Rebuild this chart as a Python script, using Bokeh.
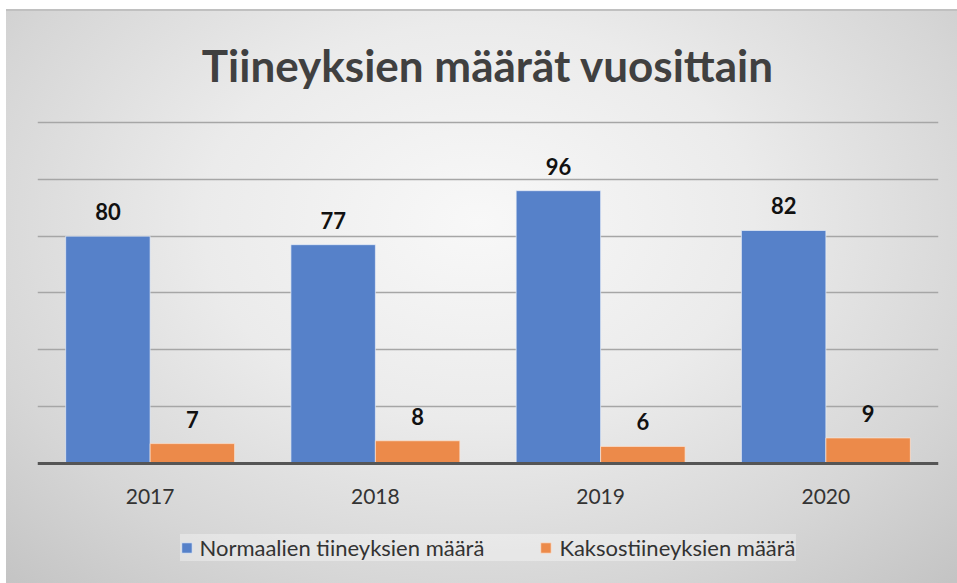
from bokeh.plotting import figure
from bokeh.models import (ColumnDataSource, FactorRange, Range1d, LabelSet, Legend,
                          LegendItem, FixedTicker, Span)
from bokeh.transform import dodge
from bokeh.embed import file_html
from bokeh.resources import INLINE
from bokeh.core.properties import value

# ---- data ----
years = ["2017", "2018", "2019", "2020"]
normal = [80, 77, 96, 82]
twins = [7, 8, 6, 9]
series_names = ["Normaalien tiineyksien määrä", "Kaksostiineyksien määrä"]
title_text = "Tiineyksien määrät vuosittain"
y_max = 120
grid_step = 20
grid_ticks = list(range(grid_step, y_max + 1, grid_step))

# ---- style / layout ----
colors = ["#5681C9", "#EC8A4A"]
FONT = "Lato"
bar_w = 0.375
px_per_unit = 343 / (y_max + 0.7)
frame_h = 463
y_start = (y_max + 0.7) - frame_h / px_per_unit   # room below the baseline for labels + legend

src = ColumnDataSource(dict(
    year=years, normal=normal, twins=twins,
    nl=[str(v) for v in normal], tl=[str(v) for v in twins],
))

p = figure(
    x_range=FactorRange(factors=years, range_padding=0),
    y_range=Range1d(y_start, y_max + 0.7),
    frame_width=901, frame_height=frame_h,
    output_backend="svg", toolbar_location=None,
    min_border_left=37, min_border_right=19, min_border_top=120, min_border_bottom=0,
)
p.background_fill_alpha = 0
p.border_fill_alpha = 0
p.outline_line_color = None
p.styles = {
    "background": "radial-gradient(ellipse 72% 85% at 50% 38%, #f8f8f8 0%, #ebebeb 40%, #d6d6d6 75%, #c4c4c4 100%)",
    "box-shadow": "inset 6px 9px 0 #ffffff, inset 6px 11px 0 #c0c0c0",
}

# grid
p.xaxis.visible = False
p.yaxis.visible = False
p.xgrid.grid_line_color = None
p.ygrid.ticker = FixedTicker(ticks=grid_ticks)
p.ygrid.grid_line_color = "#a6a6a6"
p.ygrid.grid_line_width = 1.5

r1 = p.vbar(x=dodge("year", -bar_w / 2, range=p.x_range), top="normal", bottom=0, width=bar_w,
            source=src, fill_color=colors[0], line_color="#e8eef8", line_width=1, line_alpha=0.7)
r2 = p.vbar(x=dodge("year", bar_w / 2, range=p.x_range), top="twins", bottom=0, width=bar_w,
            source=src, fill_color=colors[1], line_color="#fbe4d5", line_width=1, line_alpha=0.7)

# baseline (category axis line)
p.add_layout(Span(location=0, dimension="width", line_color="#555555", line_width=3))

# value labels
for field, txt, off in (("normal", "nl", -bar_w / 2), ("twins", "tl", bar_w / 2)):
    p.add_layout(LabelSet(
        x=dodge("year", off, range=p.x_range), y=field, text=txt, source=src,
        text_align="center", text_baseline="alphabetic", y_offset=16,
        text_font=value(FONT), text_font_style="bold", text_font_size="22px",
        text_color="#111111"))

# category labels
p.add_layout(LabelSet(
    x="year", y=0, text="year", source=src,
    text_align="center", text_baseline="alphabetic", y_offset=-40,
    text_font=value(FONT), text_font_size="21px", text_color="#333333"))

# title
p.title.text = title_text
p.title.align = "center"
p.title.text_font = FONT
p.title.text_font_style = "bold"
p.title.text_font_size = "44px"
p.title.text_color = "#404040"
p.title.standoff = 60

legend = Legend(items=[LegendItem(label=series_names[0], renderers=[r1]),
                       LegendItem(label=series_names[1], renderers=[r2])],
                orientation="horizontal", location="bottom_center")
legend.label_text_font = FONT
legend.label_text_font_size = "22px"
legend.label_text_color = "#333333"
legend.glyph_width = 13
legend.glyph_height = 13
legend.label_standoff = 7
legend.spacing = 55
legend.padding = 10
legend.margin = 22
legend.background_fill_color = "#ffffff"
legend.background_fill_alpha = 0.35
legend.border_line_color = None
p.add_layout(legend, "center")

open("out.html", "w").write(file_html(p, INLINE))
